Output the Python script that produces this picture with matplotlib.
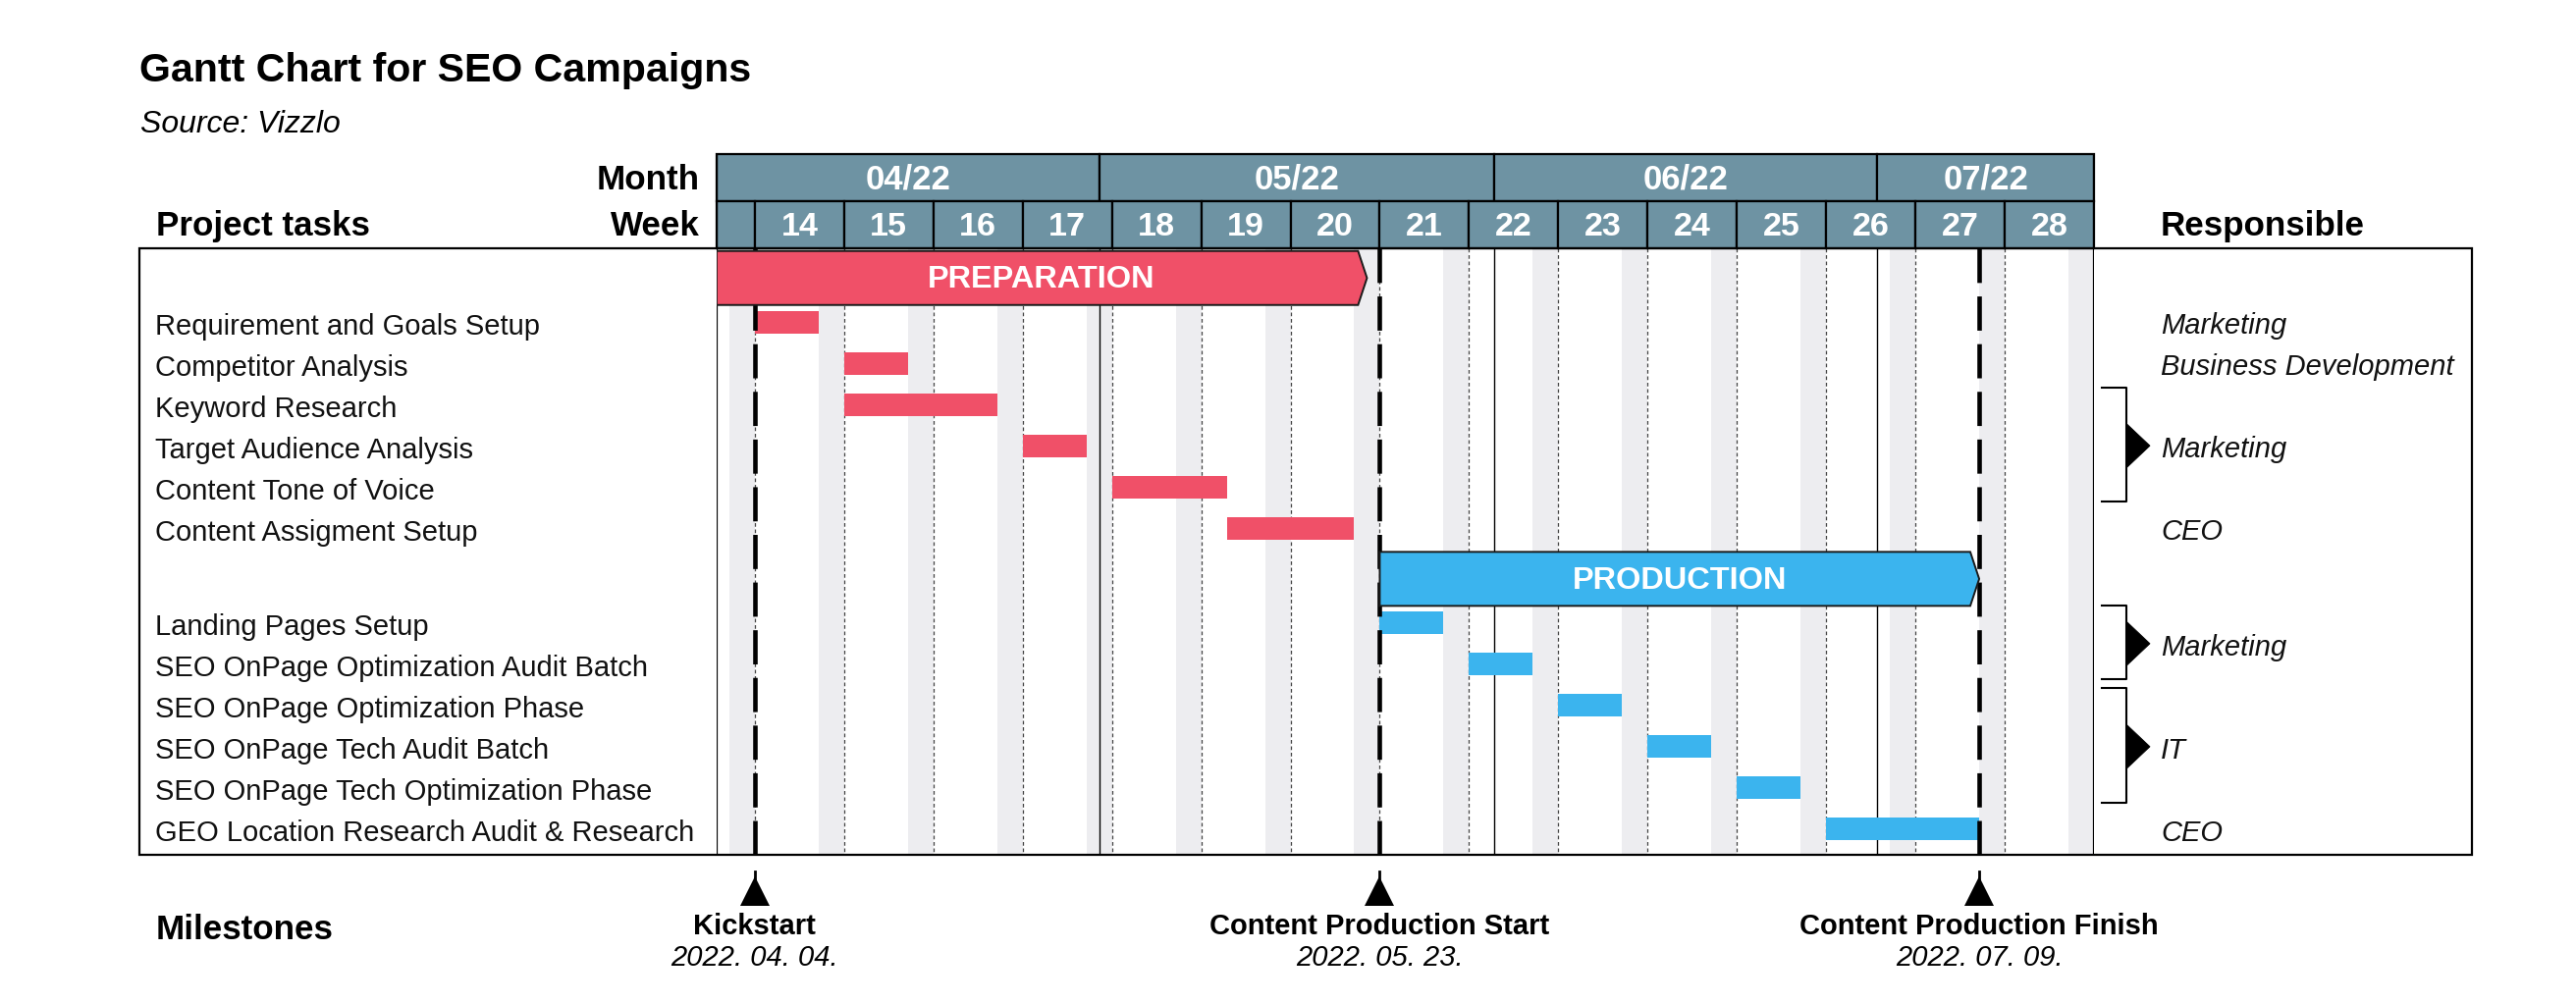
import datetime as dt
import matplotlib
matplotlib.use("Agg")
import matplotlib.pyplot as plt
import matplotlib.dates as mdates
import matplotlib.transforms as mtrans
from matplotlib.patches import Rectangle, Polygon

plt.rcParams['font.family'] = ['Liberation Sans', 'DejaVu Sans']

# ---------------- data ----------------
title = "Gantt Chart for SEO Campaigns"
subtitle = "Source: Vizzlo"

timeline_start = "2022-04-01"
timeline_end = "2022-07-18"
month_labels = ["04/22", "05/22", "06/22", "07/22"]
week_labels = ["14", "15", "16", "17", "18", "19", "20", "21",
               "22", "23", "24", "25", "26", "27", "28"]

phase_names = ["PREPARATION", "PRODUCTION"]
phase_start = ["2022-04-01", "2022-05-23"]
phase_end = ["2022-05-22", "2022-07-09"]
phase_colors = ["#F05068", "#3BB4EE"]

prep_tasks = ["Requirement and Goals Setup", "Competitor Analysis", "Keyword Research",
              "Target Audience Analysis", "Content Tone of Voice", "Content Assigment Setup"]
prep_start = ["2022-04-04", "2022-04-11", "2022-04-11", "2022-04-25", "2022-05-02", "2022-05-11"]
prep_end = ["2022-04-09", "2022-04-16", "2022-04-23", "2022-04-30", "2022-05-11", "2022-05-21"]

prod_tasks = ["Landing Pages Setup", "SEO OnPage Optimization Audit Batch",
              "SEO OnPage Optimization Phase", "SEO OnPage Tech Audit Batch",
              "SEO OnPage Tech Optimization Phase", "GEO Location Research Audit & Research"]
prod_start = ["2022-05-23", "2022-05-30", "2022-06-06", "2022-06-13", "2022-06-20", "2022-06-27"]
prod_end = ["2022-05-28", "2022-06-04", "2022-06-11", "2022-06-18", "2022-06-25", "2022-07-09"]

# responsible: (label, first task index, last task index)
prep_resp = [("Marketing", 0, 0), ("Business Development", 1, 1), ("Marketing", 2, 4), ("CEO", 5, 5)]
prod_resp = [("Marketing", 0, 1), ("IT", 2, 4), ("CEO", 5, 5)]

milestone_names = ["Kickstart", "Content Production Start", "Content Production Finish"]
milestone_dates = ["2022-04-04", "2022-05-23", "2022-07-09"]
milestone_labels = ["2022. 04. 04.", "2022. 05. 23.", "2022. 07. 09."]

# ---------------- styling / layout ----------------
W, H = 2624, 1022
DPI = 200
HEADER_C = "#6E93A3"
WEEKEND_C = "#EDEDF0"
BOTTOM = 14.714
HEAD_TOP = -2.286
HEAD_MID = -1.143
BAR_H = 0.555
PHASE_HH = 0.655
TIP = 0.7


def fx(px):
    return px / W


def fy(px):
    return 1 - px / H


def pdate(s):
    return dt.datetime.strptime(s, "%Y-%m-%d")


def dn(s):
    return mdates.date2num(pdate(s))


fig = plt.figure(figsize=(W / DPI, H / DPI), dpi=DPI)
ax = fig.add_axes([fx(729.9), fy(871), (2133 - 729.9) / W, (871 - 157) / H])
ax.axis('off')
x0, x1 = dn(timeline_start), dn(timeline_end)
ax.set_xlim(x0, x1)
ax.set_ylim(BOTTOM, HEAD_TOP)
blend = mtrans.blended_transform_factory(fig.transFigure, ax.transData)

# days
days = []
d = pdate(timeline_start)
while d < pdate(timeline_end):
    days.append(d)
    d += dt.timedelta(days=1)

# weekends
for d in days:
    if d.weekday() >= 5:
        ax.add_patch(Rectangle((mdates.date2num(d), 0), 1, BOTTOM, facecolor=WEEKEND_C,
                               edgecolor='none', zorder=1))

mondays = [mdates.date2num(d) for d in days if d.weekday() == 0 and mdates.date2num(d) > x0]
month_starts = [mdates.date2num(d) for d in days if d.day == 1 and mdates.date2num(d) > x0]

ax.vlines(mondays, 0, BOTTOM, colors='#444444', linewidth=0.45, linestyles=(0, (3, 2.2)), zorder=2)
ax.vlines(month_starts, 0, BOTTOM, colors='black', linewidth=0.5, zorder=2)
ax.vlines([x0, x1], HEAD_TOP, BOTTOM, colors='black', linewidth=0.8, zorder=6)

# header: months
mb = [x0] + month_starts + [x1]
for i in range(len(mb) - 1):
    ax.add_patch(Rectangle((mb[i], HEAD_TOP), mb[i + 1] - mb[i], HEAD_MID - HEAD_TOP,
                           facecolor=HEADER_C, edgecolor='black', linewidth=0.8,
                           zorder=5, clip_on=False))
    ax.text((mb[i] + mb[i + 1]) / 2, -1.436, month_labels[i], ha='center', va='baseline',
            color='white', fontsize=12.5, fontweight='bold', zorder=7)
# header: weeks
wb = [x0] + mondays + [x1]
for i in range(len(wb) - 1):
    ax.add_patch(Rectangle((wb[i], HEAD_MID), wb[i + 1] - wb[i], -HEAD_MID,
                           facecolor=HEADER_C, edgecolor='black', linewidth=0.8,
                           zorder=5, clip_on=False))
for i, m in enumerate(mondays):
    ax.text(m + 3.5, -0.31, week_labels[i], ha='center', va='baseline',
            color='white', fontsize=12.3, fontweight='bold', zorder=7)

# rows
groups = [
    (phase_names[0], phase_start[0], phase_end[0], phase_colors[0], prep_tasks, prep_start, prep_end, prep_resp),
    (phase_names[1], phase_start[1], phase_end[1], phase_colors[1], prod_tasks, prod_start, prod_end, prod_resp),
]
y = 0.72
for name, ps, pe, col, tasks, ts, te, resp in groups:
    a, b = dn(ps), dn(pe)
    poly = Polygon([(a, y - PHASE_HH), (b - TIP, y - PHASE_HH), (b, y),
                    (b - TIP, y + PHASE_HH), (a, y + PHASE_HH)], closed=True,
                   facecolor=col, edgecolor='#1a1a1a', linewidth=0.7, zorder=8)
    ax.add_patch(poly)
    ax.text((a + b) / 2, y + 0.23, name, ha='center', va='baseline', color='white',
            fontsize=11.7, fontweight='bold', zorder=9)
    ty = [y + 1.07 + i for i in range(len(tasks))]
    starts = [dn(s) for s in ts]
    widths = [dn(e) - dn(s) for s, e in zip(ts, te)]
    ax.barh(ty, widths, left=starts, height=BAR_H, color=col, zorder=4)
    for yy, t in zip(ty, tasks):
        ax.text(fx(158), yy + 0.30, t, transform=blend, ha='left', va='baseline',
                fontsize=10.5, color='#111111')
    for lab, i0, i1 in resp:
        yc = (ty[i0] + ty[i1]) / 2
        ax.text(fx(2201), yc + 0.29, lab, transform=blend, ha='left', va='baseline',
                fontsize=10.5, fontstyle='italic', color='#111111')
        if i1 > i0:
            top, bot = ty[i0] - 0.42, ty[i1] + 0.36
            ax.plot([fx(2141), fx(2166), fx(2166), fx(2141)], [top, top, bot, bot],
                    transform=blend, color='black', linewidth=0.75, clip_on=False)
            ax.add_patch(Polygon([(fx(2166), yc - 0.54), (fx(2190), yc), (fx(2166), yc + 0.54)],
                                 closed=True, transform=blend, facecolor='black',
                                 edgecolor='black', linewidth=0.3, clip_on=False))
    y = ty[-1] + 1.23

# milestones
for name, ds, lab in zip(milestone_names, milestone_dates, milestone_labels):
    m = dn(ds)
    ax.plot([m, m], [0, BOTTOM + 0.1], color='black', linewidth=1.65,
            dashes=(7.6, 3.0), zorder=6, clip_on=False)
    ax.plot([m, m], [15.12, 15.4], color='black', linewidth=1.0, zorder=6, clip_on=False)
    ax.plot([m], [15.6], marker='^', markersize=10.8, color='black', markeredgewidth=0,
            zorder=6, clip_on=False)
    ax.text(m, 16.64, name, ha='center', va='baseline', fontsize=10.5,
            fontweight='bold', clip_on=False)
    ax.text(m, 17.40, lab, ha='center', va='baseline', fontsize=10.5,
            fontstyle='italic', clip_on=False)

# outer box
ax.add_patch(Rectangle((fx(142), 0), fx(2518) - fx(142), BOTTOM, transform=blend,
                       fill=False, edgecolor='black', linewidth=0.8, zorder=10, clip_on=False))

# titles and column labels
fig.text(fx(142), fy(83.3), title, fontsize=14.8, fontweight='bold', va='baseline')
fig.text(fx(143), fy(135), subtitle, fontsize=11.5, fontstyle='italic', va='baseline')
fig.text(fx(712.5), fy(192.7), "Month", fontsize=12.6, fontweight='bold', ha='right', va='baseline')
fig.text(fx(712.5), fy(240), "Week", fontsize=12.6, fontweight='bold', ha='right', va='baseline')
fig.text(fx(159), fy(240), "Project tasks", fontsize=12.6, fontweight='bold', va='baseline')
fig.text(fx(2201), fy(240), "Responsible", fontsize=12.6, fontweight='bold', va='baseline')
fig.text(fx(159), fy(957), "Milestones", fontsize=12.6, fontweight='bold', va='baseline')

fig.savefig("out.png", dpi=DPI, facecolor='white')
